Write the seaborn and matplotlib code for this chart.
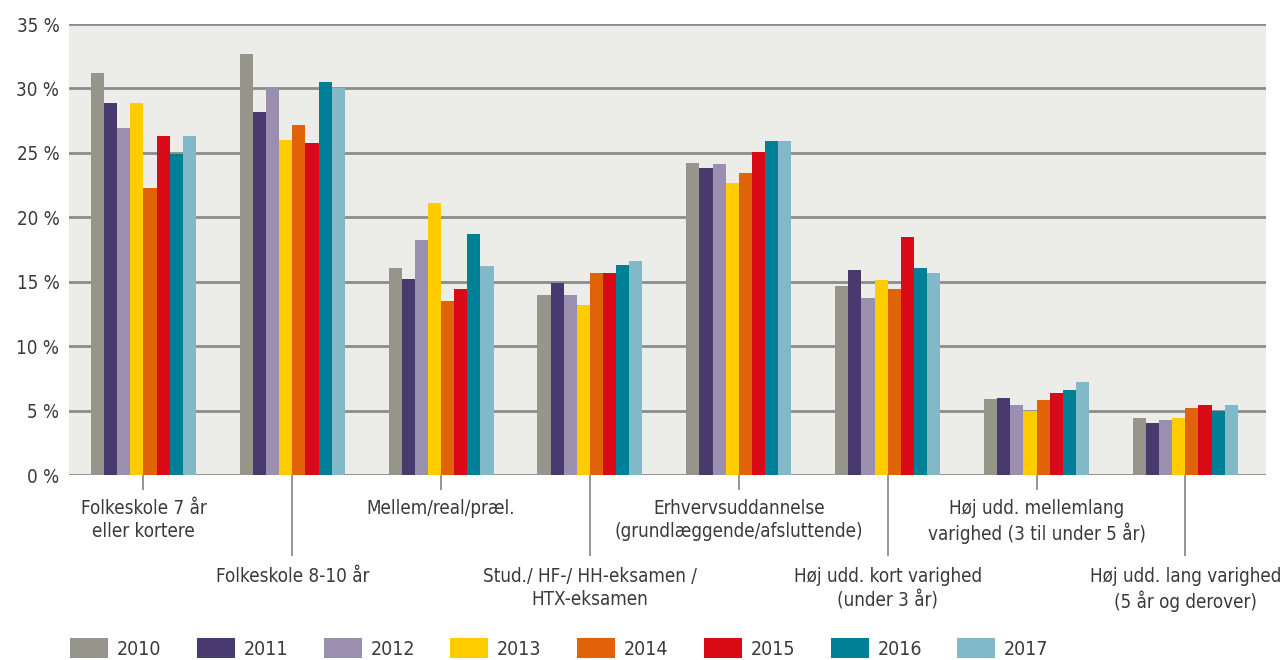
import matplotlib
matplotlib.use("Agg")
import matplotlib.pyplot as plt
from matplotlib.ticker import FixedLocator, FixedFormatter
import seaborn as sns
import pandas as pd

# categories (x axis), split over two label rows
categories = [
    "Folkeskole 7 år\neller kortere",
    "Folkeskole 8-10 år",
    "Mellem/real/præl.",
    "Stud./ HF-/ HH-eksamen /\nHTX-eksamen",
    "Erhvervsuddannelse\n(grundlæggende/afsluttende)",
    "Høj udd. kort varighed\n(under 3 år)",
    "Høj udd. mellemlang\nvarighed (3 til under 5 år)",
    "Høj udd. lang varighed\n(5 år og derover)",
]
years = ["2010", "2011", "2012", "2013", "2014", "2015", "2016", "2017"]

# share in percent, one list per year (same order as categories)
v2010 = [31.2, 32.7, 16.1, 14.0, 24.2, 14.7, 5.9, 4.4]
v2011 = [28.9, 28.2, 15.2, 14.9, 23.8, 15.9, 6.0, 4.0]
v2012 = [26.9, 30.0, 18.2, 14.0, 24.1, 13.7, 5.4, 4.3]
v2013 = [28.9, 26.0, 21.1, 13.2, 22.7, 15.1, 5.0, 4.4]
v2014 = [22.3, 27.2, 13.5, 15.7, 23.4, 14.4, 5.8, 5.2]
v2015 = [26.3, 25.8, 14.4, 15.7, 25.1, 18.5, 6.4, 5.4]
v2016 = [24.9, 30.5, 18.7, 16.3, 25.9, 16.1, 6.6, 5.0]
v2017 = [26.3, 30.0, 16.2, 16.6, 25.9, 15.7, 7.2, 5.4]

colors = ["#96958c", "#48396e", "#9b8fb0", "#ffcc00",
          "#e2620a", "#d90a16", "#008096", "#82b9c8"]

series = [v2010, v2011, v2012, v2013, v2014, v2015, v2016, v2017]
rows = []
for yr, vals in zip(years, series):
    for i, v in enumerate(vals):
        rows.append({"cat": i, "year": yr, "value": v})
df = pd.DataFrame(rows)

sns.set_style("white")
plt.rcParams["font.family"] = ["DejaVu Sans"]
plt.rcParams["font.stretch"] = "condensed"
txt = "#3a3a3a"
grid_c = "#8c8c8c"

fig = plt.figure(figsize=(12.85, 6.6), dpi=100)
ax = fig.add_axes([0.0537, 0.2803, 0.9313, 0.6833])
ax.set_facecolor("#ecece8")

sns.barplot(data=df, x="cat", y="value", hue="year", palette=colors,
            width=0.705, saturation=1, linewidth=0, ax=ax, order=range(8), zorder=3)

ax.set_ylim(0, 35)
ax.set_xlim(-0.5, 7.54)
ax.set_yticks(range(0, 36, 5))
ax.set_yticklabels([f"{t} %" for t in range(0, 36, 5)], fontsize=13.5, color=txt)
ax.yaxis.grid(True, color=grid_c, lw=2, zorder=1)
ax.set_axisbelow(True)
ax.tick_params(axis="y", length=0, pad=7)

for s in ax.spines.values():
    s.set_visible(False)

# staggered category labels: short ticks for even groups, long for odd
ax.xaxis.set_major_locator(FixedLocator([0, 2, 4, 6]))
ax.xaxis.set_major_formatter(FixedFormatter([categories[i] for i in (0, 2, 4, 6)]))
ax.xaxis.set_minor_locator(FixedLocator([1, 3, 5, 7]))
ax.xaxis.set_minor_formatter(FixedFormatter([categories[i] for i in (1, 3, 5, 7)]))
ax.tick_params(axis="x", which="major", length=11, width=1.3, color=grid_c,
               pad=6, labelsize=13.5, labelcolor=txt, bottom=True)
ax.tick_params(axis="x", which="minor", length=58, width=1.3, color=grid_c,
               pad=8, labelsize=13.5, labelcolor=txt, bottom=True)
for t in ax.get_xticklabels(which="both"):
    t.set_linespacing(1.3)
ax.set_xlabel("")
ax.set_ylabel("")

handles, labels = ax.get_legend_handles_labels()
ax.get_legend().remove()
fig.legend(handles, labels, loc="lower left", bbox_to_anchor=(0.041, -0.025),
           ncol=8, frameon=False, fontsize=14, handlelength=1.95, handleheight=1.2,
           handletextpad=0.45, columnspacing=1.83, labelcolor=txt)

fig.savefig("out.png", dpi=100)
